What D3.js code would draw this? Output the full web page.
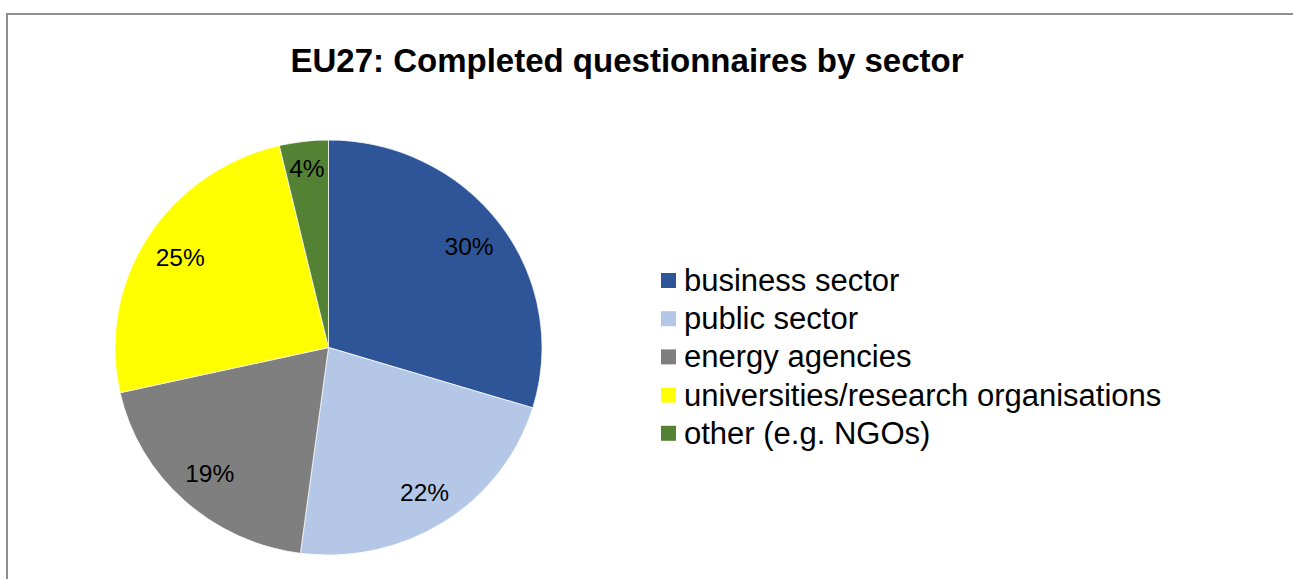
<html>

<head>
  <meta charset="utf8">
  <title>EU27: Completed questionnaires by sector</title>
  <style>
    * {
      margin: 0;
      padding: 0;
    }
    body {
      background: #fff;
    }
  </style>
</head>

<body>
  <script src="https://cdn.jsdelivr.net/npm/d3@7"></script>
  <script>
    var w = 1293
    var h = 579

    // data (share of completed questionnaires, %)
    var sectors = ['business sector', 'public sector', 'energy agencies', 'universities/research organisations', 'other (e.g. NGOs)']
    var shares = [29.7, 22.4, 19.4, 24.8, 3.7]
    var colors = ['#2E5597', '#B4C7E7', '#7F7F7F', '#FFFF00', '#548235']

    var font = "'Liberation Sans', Arial, sans-serif"
    var cx = 328.5
    var cy = 347.5
    var r = 207.5
    var sx = 1.029 // the original pie is a little wider than tall

    var svg = d3.select('body').append('svg').attr('width', w).attr('height', h)

    // chart frame
    svg.append('rect')
      .attr('x', 7)
      .attr('y', 14)
      .attr('width', 1320)
      .attr('height', 620)
      .attr('fill', 'none')
      .attr('stroke', '#8f8f8f')
      .attr('stroke-width', 2)

    svg.append('text')
      .text('EU27: Completed questionnaires by sector')
      .attr('x', 627)
      .attr('y', 72)
      .attr('text-anchor', 'middle')
      .attr('font-family', font)
      .attr('font-weight', 'bold')
      .attr('font-size', '33px')
      .attr('fill', '#000')

    var pie = d3.pie().sort(null).value(d => d)
    var arcs = pie(shares)
    var arc = d3.arc().innerRadius(0).outerRadius(r)

    var g = svg.append('g')
      .attr('transform', 'translate(' + cx + ',' + cy + ') scale(' + sx + ',1)')

    g.selectAll('path')
      .data(arcs)
      .enter()
      .append('path')
      .attr('d', arc)
      .attr('fill', (d, i) => colors[i])
      .attr('stroke', 'rgba(255,255,255,0.7)')
      .attr('stroke-width', 1)

    // labels: "inside end", pushed out along the mid angle until the box touches the rim
    var fs = 24.5
    var labels = svg.selectAll('text.pct')
      .data(arcs)
      .enter()
      .append('text')
      .attr('class', 'pct')
      .text(d => Math.round(d.value) + '%')
      .attr('text-anchor', 'middle')
      .attr('font-family', font)
      .attr('font-size', fs + 'px')
      .attr('fill', '#000')

    labels.each(function (d) {
      var hw = this.getComputedTextLength() / sx / 2
      var hh = 15
      var pad = 9
      var a = (d.startAngle + d.endAngle) / 2
      var dx = Math.sin(a)
      var dy = -Math.cos(a)
      var lr = r
      for (; lr > 0; lr -= 0.5) {
        var px = dx * lr
        var py = dy * lr
        var far = d3.max([[-1, -1], [1, -1], [-1, 1], [1, 1]], c => Math.hypot(px + c[0] * hw, py + c[1] * hh))
        if (far <= r - pad) break
      }
      d3.select(this)
        .attr('x', cx + dx * lr * sx)
        .attr('y', cy + dy * lr + fs * 0.36)
    })

    // legend
    var legend = svg.selectAll('g.legend')
      .data(sectors)
      .enter()
      .append('g')
      .attr('class', 'legend')
      .attr('transform', (d, i) => 'translate(661,' + (280.5 + i * 38.2) + ')')

    legend.append('rect')
      .attr('x', 0)
      .attr('y', -7.5)
      .attr('width', 15)
      .attr('height', 15)
      .attr('fill', (d, i) => colors[i])

    legend.append('text')
      .text(d => d)
      .attr('x', 23)
      .attr('y', 10.5)
      .attr('font-family', font)
      .attr('font-size', '31px')
      .attr('fill', '#000')
  </script>
</body>

</html>
